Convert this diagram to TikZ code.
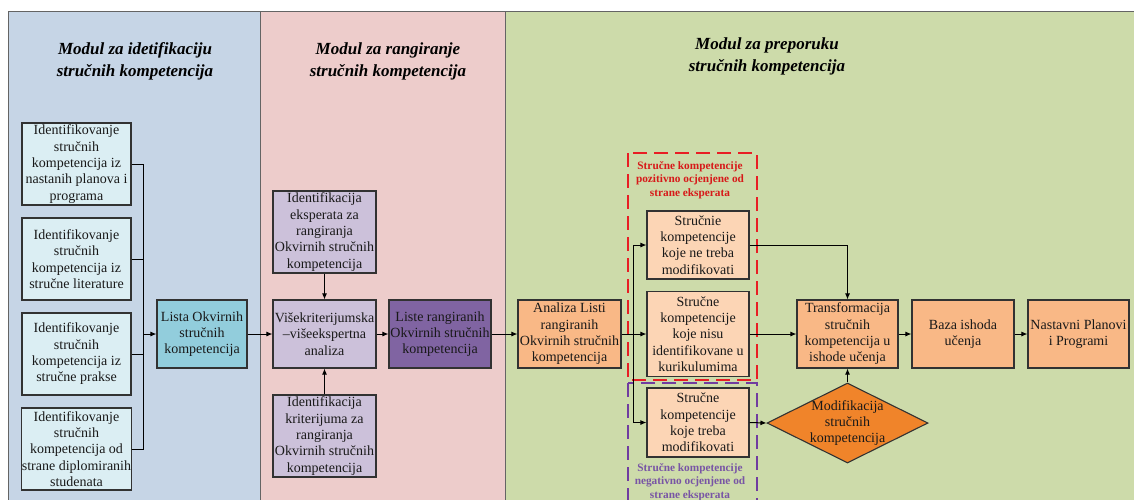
\documentclass[tikz,border=0pt]{standalone}
\usepackage{fontspec}
\setmainfont{Liberation Serif}
\usetikzlibrary{arrows.meta,shapes.geometric}
\definecolor{bluepanel}{RGB}{198,213,230}
\definecolor{pinkpanel}{RGB}{237,204,203}
\definecolor{greenpanel}{RGB}{205,219,170}
\definecolor{panelline}{RGB}{100,100,100}
\definecolor{lcyan}{RGB}{219,238,243}
\definecolor{tealbox}{RGB}{146,205,220}
\definecolor{lavender}{RGB}{204,193,218}
\definecolor{dpurple}{RGB}{128,100,162}
\definecolor{orangebox}{RGB}{249,184,134}
\definecolor{peach}{RGB}{252,213,181}
\definecolor{diamorange}{RGB}{240,132,42}
\definecolor{dashred}{RGB}{232,30,36}
\definecolor{dashpurple}{RGB}{112,60,160}
\definecolor{txtred}{RGB}{215,25,25}
\definecolor{txtpurple}{RGB}{120,85,165}
\definecolor{boxline}{RGB}{50,50,50}
\tikzset{
  panel/.style={draw=panelline, line width=1pt},
  box/.style={draw=boxline, line width=1.1pt, inner sep=0pt, align=center,
    font=\fontsize{14}{16.3}\selectfont, text=black!90},
  lbox/.style={box, fill=lcyan, minimum width=109pt, minimum height=82pt},
  tbox/.style={box, fill=tealbox, minimum width=90pt, minimum height=68pt},
  vbox/.style={box, fill=lavender, minimum width=103pt},
  pbox/.style={box, fill=dpurple, minimum width=102pt, minimum height=68pt},
  obox/.style={box, fill=orangebox, minimum height=68pt},
  sbox/.style={box, fill=peach, minimum width=102pt},
  diam/.style={shape=diamond, draw=boxline, line width=1.1pt, fill=diamorange,
    minimum width=161pt, minimum height=80pt, inner sep=0pt},
  title/.style={align=center, font=\fontsize{17}{22}\selectfont\bfseries\itshape},
  grplabel/.style={align=center, font=\fontsize{11.3}{13.6}\selectfont\bfseries},
  conn/.style={draw=black, line width=1pt},
  arr/.style={conn, -{Latex[length=6pt,width=5pt]}},
  reddash/.style={draw=dashred, line width=2.2pt, dash pattern=on 14pt off 7pt},
  purpledash/.style={draw=dashpurple, line width=2.2pt, dash pattern=on 14pt off 7pt}
}
\begin{document}
\begin{tikzpicture}[x=1pt,y=-1pt]
\useasboundingbox (0,0) rectangle (1134,499);
\fill[white] (0,0) rectangle (1134,499);
% panels
\draw[panel, fill=bluepanel] (8,11) rectangle (260,510);
\draw[panel, fill=pinkpanel] (260,11) rectangle (505,510);
\draw[panel, fill=greenpanel] (505,11) rectangle (1145,510);
% titles
\node[title] (t1) at (135,61) {Modul za idetifikaciju\\stručnih kompetencija};
\node[title] (t2) at (388,61) {Modul za rangiranje\\stručnih kompetencija};
\node[title] (t3) at (767,56) {Modul za preporuku\\stručnih kompetencija};
% module 1
\node[lbox] (b1) at (76.5,164) {Identifikovanje\\stručnih\\kompetencija iz\\nastanih planova i\\programa};
\node[lbox] (b2) at (76.5,259) {Identifikovanje\\stručnih\\kompetencija iz\\stručne literature};
\node[lbox] (b3) at (76.5,354) {Identifikovanje\\stručnih\\kompetencija iz\\stručne prakse};
\node[lbox] (b4) at (76.5,449) {Identifikovanje\\stručnih\\kompetencija od\\strane diplomiranih\\studenata};
\node[tbox] (lista) at (202,334) {Lista Okvirnih\\stručnih\\kompetencija};
\coordinate (bus) at (143,334);
\draw[conn] (b1.east) -| (bus);
\draw[conn] (b4.east) -| (bus);
\draw[conn] (b2.east) -| (bus);
\draw[conn] (b3.east) -| (bus);
\draw[arr] (bus) -- (lista.west);
% module 2
\node[vbox, minimum height=82pt] (pk1) at (324.5,232) {Identifikacija\\eksperata za\\rangiranja\\Okvirnih stručnih\\kompetencija};
\node[vbox, minimum height=68pt] (vis) at (324.5,334) {Višekriterijumska\\–višeekspertna\\analiza};
\node[vbox, minimum height=82pt] (pk2) at (324.5,436) {Identifikacija\\kriterijuma za\\rangiranja\\Okvirnih stručnih\\kompetencija};
\node[pbox] (liste) at (440,334) {Liste rangiranih\\Okvirnih stručnih\\kompetencija};
\draw[arr] (lista.east) -- (vis.west);
\draw[arr] (pk1.south) -- (vis.north);
\draw[arr] (pk2.north) -- (vis.south);
\draw[arr] (vis.east) -- (liste.west);
% module 3
\node[obox, minimum width=103pt] (analiza) at (569.5,334) {Analiza Listi\\rangiranih\\Okvirnih stručnih\\kompetencija};
\draw[arr] (liste.east) -- (analiza.west);
\node[sbox, minimum height=68pt] (sA) at (698,245) {Stručnie\\kompetencije\\koje ne treba\\modifikovati};
\node[sbox, minimum height=85pt] (sB) at (698,334) {Stručne\\kompetencije\\koje nisu\\identifikovane u\\kurikulumima};
\node[sbox, minimum height=69pt] (sC) at (698,422.5) {Stručne\\kompetencije\\koje treba\\modifikovati};
\node[obox, minimum width=101pt] (trans) at (847.5,334) {Transformacija\\stručnih\\kompetencija u\\ishode učenja};
\node[obox, minimum width=102pt] (baza) at (963,334) {Baza ishoda\\učenja};
\node[obox, minimum width=101pt] (nast) at (1078.5,334) {Nastavni Planovi\\i Programi};
\node[diam] (dm) at (847.5,423) {};
\node[align=center, font=\fontsize{14}{16.3}\selectfont, text=black!90, inner sep=0pt] (dmt) at (dm.center) {Modifikacija\\stručnih\\kompetencija};
% dashed groups
\draw[reddash] (628,153) rectangle (757,380);
\draw[purpledash] (628,383) rectangle (757,530);
\node[grplabel, text=txtred] (lr) at (690,180) {Stručne kompetencije\\pozitivno ocjenjene od\\strane eksperata};
\node[grplabel, text=txtpurple] (lp) at (690,482) {Stručne kompetencije\\negativno ocjenjene od\\strane eksperata};
% connectors module 3
\coordinate (br) at (633,334);
\draw[conn] (analiza.east) -- (br);
\draw[arr] (br) |- (sA.west);
\draw[arr] (br) -- (sB.west);
\draw[arr] (br) |- (sC.west);
\draw[arr] (sA.east) -| (trans.north);
\draw[arr] (sB.east) -- (trans.west);
\draw[arr] (sC.east) -- (dm.west);
\draw[arr] (dm.north) -- (trans.south);
\draw[arr] (trans.east) -- (baza.west);
\draw[arr] (baza.east) -- (nast.west);
\end{tikzpicture}
\end{document}
